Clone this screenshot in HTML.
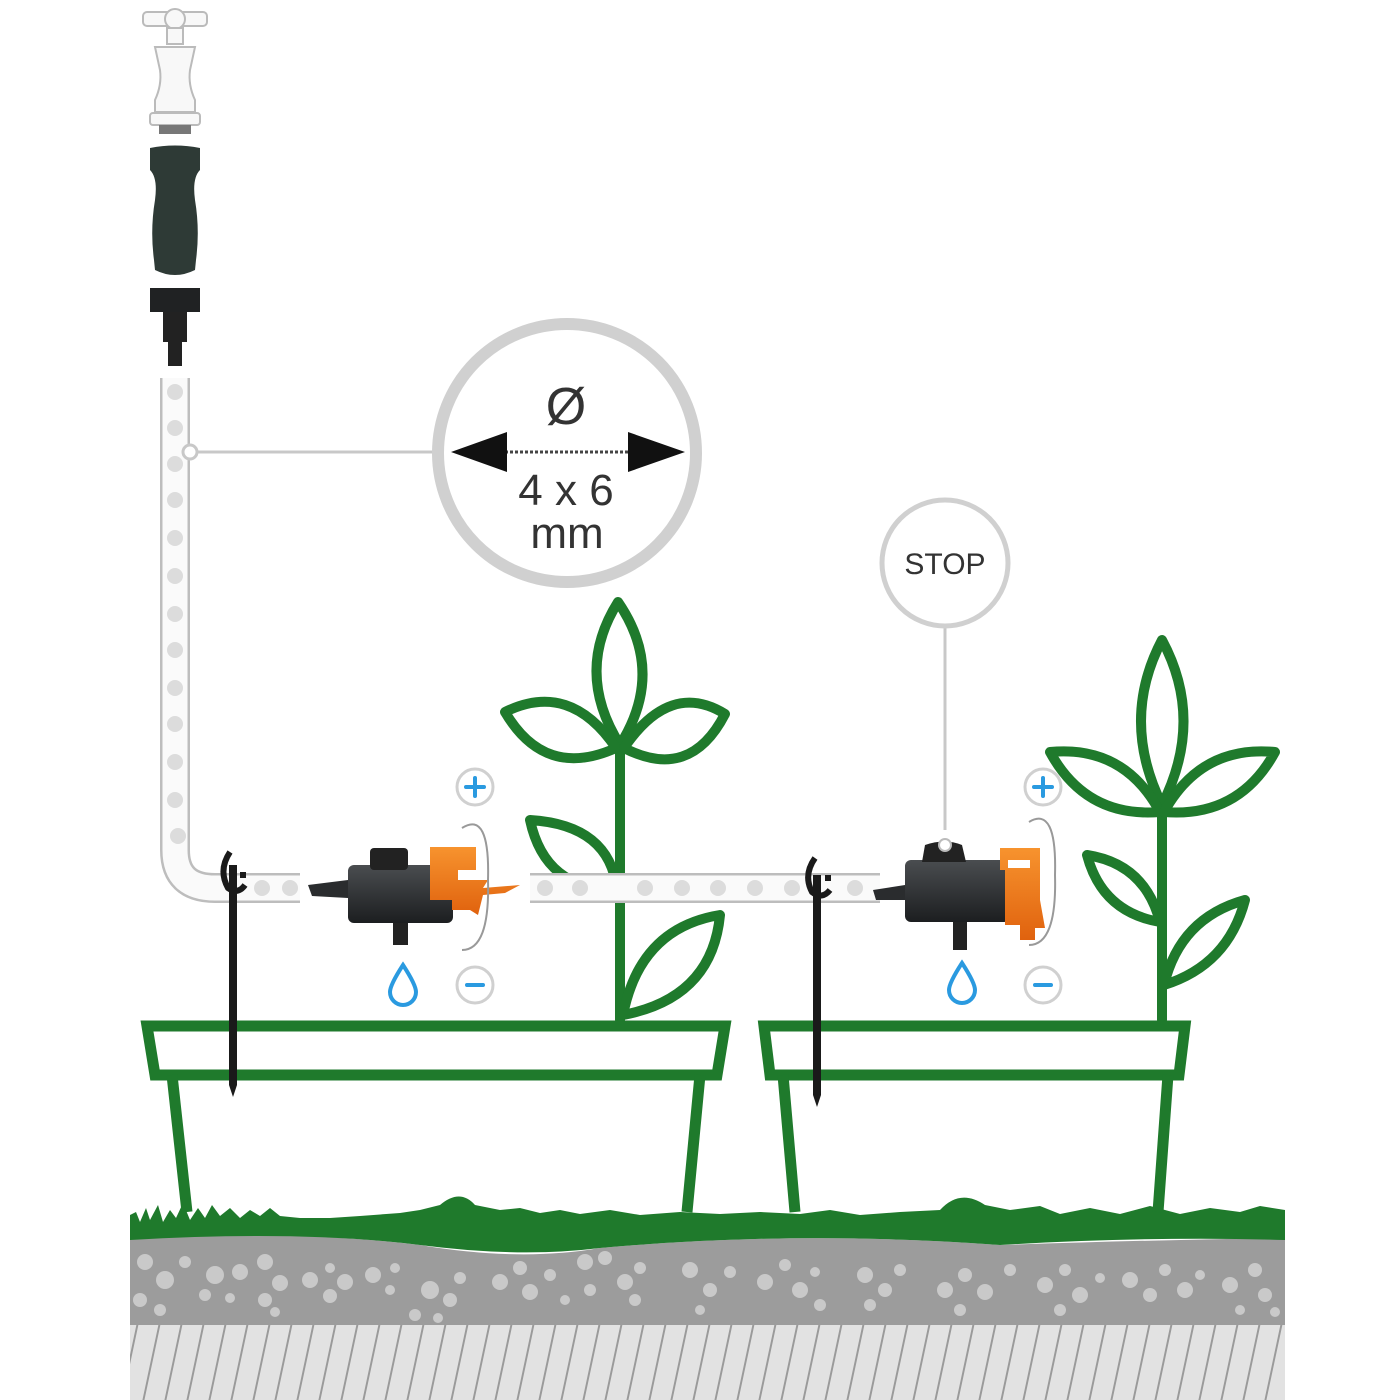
<!DOCTYPE html>
<html><head><meta charset="utf-8"><style>html,body{margin:0;padding:0;background:#fff}svg{display:block}</style></head>
<body>
<svg width="1400" height="1400" viewBox="0 0 1400 1400" xmlns="http://www.w3.org/2000/svg">
<defs>
<pattern id="hatch" patternUnits="userSpaceOnUse" width="22" height="80" patternTransform="skewX(-12)">
<rect width="22" height="80" fill="#e2e2e2"/><rect width="2" height="80" fill="#9a9a9a"/>
</pattern>
<linearGradient id="blk" x1="0" y1="0" x2="0" y2="1"><stop offset="0" stop-color="#4a4d50"/><stop offset="1" stop-color="#1c1e20"/></linearGradient>
<linearGradient id="org" x1="0" y1="0" x2="0" y2="1"><stop offset="0" stop-color="#f7932e"/><stop offset="1" stop-color="#e0620e"/></linearGradient>
</defs>

<!-- ground -->
<rect x="130" y="1325" width="1155" height="75" fill="url(#hatch)"/>
<path d="M130,1238 Q300,1230 420,1245 Q520,1262 600,1248 Q800,1230 1000,1245 Q1150,1240 1285,1238 V1325 H130 Z" fill="#9c9c9c"/>
<g fill="#c9c9c9">
<circle cx="145" cy="1262" r="8"/><circle cx="165" cy="1280" r="9"/><circle cx="185" cy="1262" r="6"/><circle cx="140" cy="1300" r="7"/><circle cx="160" cy="1310" r="6"/>
<circle cx="215" cy="1275" r="9"/><circle cx="240" cy="1272" r="8"/><circle cx="205" cy="1295" r="6"/><circle cx="230" cy="1298" r="5"/><circle cx="265" cy="1262" r="8"/><circle cx="280" cy="1283" r="8"/><circle cx="265" cy="1300" r="7"/><circle cx="275" cy="1312" r="5"/>
<circle cx="310" cy="1280" r="8"/><circle cx="330" cy="1268" r="5"/><circle cx="345" cy="1282" r="8"/><circle cx="330" cy="1296" r="7"/><circle cx="373" cy="1275" r="8"/><circle cx="390" cy="1290" r="5"/><circle cx="395" cy="1268" r="5"/>
<circle cx="430" cy="1290" r="9"/><circle cx="450" cy="1300" r="7"/><circle cx="460" cy="1278" r="6"/><circle cx="415" cy="1315" r="6"/><circle cx="438" cy="1318" r="5"/>
<circle cx="500" cy="1282" r="8"/><circle cx="520" cy="1268" r="7"/><circle cx="530" cy="1292" r="8"/><circle cx="550" cy="1275" r="6"/><circle cx="565" cy="1300" r="5"/>
<circle cx="585" cy="1262" r="8"/><circle cx="605" cy="1258" r="7"/><circle cx="590" cy="1290" r="6"/><circle cx="625" cy="1282" r="8"/><circle cx="640" cy="1268" r="6"/><circle cx="635" cy="1300" r="6"/>
<circle cx="690" cy="1270" r="8"/><circle cx="710" cy="1290" r="7"/><circle cx="730" cy="1272" r="6"/><circle cx="700" cy="1310" r="5"/>
<circle cx="765" cy="1282" r="8"/><circle cx="785" cy="1265" r="6"/><circle cx="800" cy="1290" r="8"/><circle cx="815" cy="1272" r="5"/><circle cx="820" cy="1305" r="6"/>
<circle cx="865" cy="1275" r="8"/><circle cx="885" cy="1290" r="7"/><circle cx="900" cy="1270" r="6"/><circle cx="870" cy="1305" r="6"/>
<circle cx="945" cy="1290" r="8"/><circle cx="965" cy="1275" r="7"/><circle cx="985" cy="1292" r="8"/><circle cx="960" cy="1310" r="6"/><circle cx="1010" cy="1270" r="6"/>
<circle cx="1045" cy="1285" r="8"/><circle cx="1065" cy="1270" r="6"/><circle cx="1080" cy="1295" r="8"/><circle cx="1100" cy="1278" r="5"/><circle cx="1060" cy="1310" r="6"/>
<circle cx="1130" cy="1280" r="8"/><circle cx="1150" cy="1295" r="7"/><circle cx="1165" cy="1270" r="6"/><circle cx="1185" cy="1290" r="8"/><circle cx="1200" cy="1275" r="5"/>
<circle cx="1230" cy="1285" r="8"/><circle cx="1255" cy="1270" r="7"/><circle cx="1265" cy="1295" r="7"/><circle cx="1240" cy="1310" r="5"/><circle cx="1275" cy="1312" r="5"/>
</g>
<!-- grass -->
<path d="M130,1240 V1215 L136,1212 L140,1222 L146,1208 L150,1220 L158,1205 L163,1222 L170,1210 L176,1218 L183,1203 L190,1220 L198,1208 L205,1218 L212,1205 L220,1216 L230,1208 L240,1218 L250,1210 L260,1216 L270,1208 L280,1216 L300,1218 L330,1218 L360,1216 L400,1213 L420,1210 L440,1205 Q460,1188 475,1205 L500,1210 L520,1208 L540,1213 L560,1210 L580,1214 L610,1210 L640,1215 L680,1212 L720,1214 L760,1212 L800,1214 L830,1210 L860,1215 L900,1212 L940,1210 Q960,1188 985,1205 L1010,1210 L1040,1206 L1060,1214 L1090,1208 L1120,1214 L1150,1206 L1180,1214 L1210,1208 L1240,1212 L1260,1206 L1285,1210 V1240 Q1150,1236 1000,1245 Q800,1230 600,1248 Q520,1258 420,1245 Q300,1230 130,1240 Z" fill="#1f7a2c"/>

<!-- pots -->
<g fill="none" stroke="#1f7a2c" stroke-width="11" stroke-linejoin="miter">
<path d="M147,1026 H725 L717,1075 H155 Z"/>
<path d="M172,1075 L187,1212 M700,1075 L687,1212"/>
<path d="M764,1026 H1185 L1179,1075 H770 Z"/>
<path d="M783,1075 L795,1212 M1168,1075 L1158,1212"/>
</g>

<!-- plants -->
<g fill="none" stroke="#1f7a2c" stroke-width="10" stroke-linejoin="round" stroke-linecap="round">
<path d="M620,1020 V745"/>
<path d="M620,745 Q574,672 618,602 Q666,672 620,745 Z"/>
<path d="M616,748 Q570,680 505,712 Q545,780 616,748 Z"/>
<path d="M624,748 Q670,680 725,714 Q690,782 624,748 Z"/>
<path d="M617,890 Q610,825 530,820 Q545,890 617,890 Z"/>
<path d="M623,1015 Q640,928 720,915 Q712,998 623,1015 Z"/>
<path d="M1162,1020 V805"/>
<path d="M1162,805 Q1120,720 1162,640 Q1205,720 1162,805 Z"/>
<path d="M1160,812 Q1124,745 1050,752 Q1086,818 1160,812 Z"/>
<path d="M1164,812 Q1201,745 1275,752 Q1239,818 1164,812 Z"/>
<path d="M1160,922 Q1145,864 1087,855 Q1102,912 1160,922 Z"/>
<path d="M1164,985 Q1180,918 1245,900 Q1228,965 1164,985 Z"/>
</g>

<!-- connector lines -->
<g stroke="#c8c8c8" stroke-width="3" fill="none">
<line x1="190" y1="452" x2="436" y2="452"/>
<line x1="945" y1="628" x2="945" y2="830"/>
</g>

<!-- tubes -->
<g fill="none" stroke-linecap="butt">
<path d="M175,378 V850 Q175,888 215,888 H300" stroke="#bdbdbd" stroke-width="30"/>
<path d="M175,378 V850 Q175,888 215,888 H300" stroke="#fafafa" stroke-width="25"/>
<path d="M530,888 H880" stroke="#bdbdbd" stroke-width="30"/>
<path d="M530,888 H880" stroke="#fafafa" stroke-width="25"/>
</g>
<g fill="#dcdcdc">
<circle cx="175" cy="392" r="8"/><circle cx="175" cy="428" r="8"/><circle cx="175" cy="464" r="8"/><circle cx="175" cy="500" r="8"/><circle cx="175" cy="538" r="8"/><circle cx="175" cy="576" r="8"/><circle cx="175" cy="614" r="8"/><circle cx="175" cy="650" r="8"/><circle cx="175" cy="688" r="8"/><circle cx="175" cy="724" r="8"/><circle cx="175" cy="762" r="8"/><circle cx="175" cy="800" r="8"/><circle cx="178" cy="836" r="8"/>
<circle cx="262" cy="888" r="8"/><circle cx="290" cy="888" r="8"/>
<circle cx="545" cy="888" r="8"/><circle cx="580" cy="888" r="8"/><circle cx="645" cy="888" r="8"/><circle cx="682" cy="888" r="8"/><circle cx="718" cy="888" r="8"/><circle cx="755" cy="888" r="8"/><circle cx="792" cy="888" r="8"/><circle cx="855" cy="888" r="8"/>
</g>
<circle cx="190" cy="452" r="7" fill="#fff" stroke="#c8c8c8" stroke-width="3"/>

<!-- faucet -->
<g fill="#f8f8f8" stroke="#bbb" stroke-width="2">
<rect x="143" y="12" width="64" height="14" rx="4"/>
<circle cx="175" cy="19" r="10"/>
<rect x="167" y="28" width="16" height="16"/>
<path d="M155,47 H195 L190,70 Q188,85 195,100 V112 H155 V100 Q162,85 160,70 Z"/>
<rect x="150" y="113" width="50" height="12" rx="3"/>
</g>
<rect x="159" y="125" width="32" height="9" fill="#777"/>
<path d="M150,148 Q175,143 200,148 L200,170 Q192,178 195,200 Q200,230 196,260 L195,270 Q175,280 155,270 L154,260 Q150,230 155,200 Q158,178 150,170 Z" fill="#2e3a36"/>
<path d="M150,288 H200 L200,312 H150 Z" fill="#202223"/>
<rect x="163" y="312" width="24" height="30" fill="#222"/>
<rect x="168" y="342" width="14" height="24" fill="#222"/>

<!-- big circle -->
<circle cx="567" cy="453" r="129" fill="#fff" stroke="#d0d0d0" stroke-width="12"/>
<text x="566" y="424" font-family="Liberation Sans, sans-serif" font-size="52" text-anchor="middle" fill="#333">Ø</text>
<line x1="505" y1="452" x2="630" y2="452" stroke="#444" stroke-width="3" stroke-dasharray="3,2"/>
<path d="M451,452 L507,432 V472 Z M685,452 L628,432 V472 Z" fill="#111"/>
<text x="566" y="505" font-family="Liberation Sans, sans-serif" font-size="44" text-anchor="middle" fill="#333">4 x 6</text>
<text x="567" y="548" font-family="Liberation Sans, sans-serif" font-size="44" text-anchor="middle" fill="#333">mm</text>

<!-- STOP circle -->
<circle cx="945" cy="563" r="63" fill="#fff" stroke="#d0d0d0" stroke-width="5"/>
<text x="945" y="574" font-family="Liberation Sans, sans-serif" font-size="30" text-anchor="middle" fill="#333">STOP</text>

<!-- stakes -->
<g fill="#1a1a1a">
<rect x="229" y="865" width="8" height="220"/>
<path d="M229,1085 h8 l-4,12 z"/>
<rect x="813" y="875" width="8" height="220"/>
<path d="M813,1095 h8 l-4,12 z"/>
</g>
<g fill="none" stroke="#1a1a1a" stroke-width="6">
<path d="M230,852 Q218,870 228,888 Q238,895 245,885 M240,875 l6,0"/>
<path d="M815,858 Q803,875 812,892 Q822,900 830,890 M825,878 l6,0"/>
</g>

<!-- left dripper -->
<path d="M308,885 L348,880 L348,898 L312,896 Z" fill="#2a2c2e"/>
<rect x="348" y="865" width="105" height="58" rx="6" fill="url(#blk)"/>
<rect x="370" y="848" width="38" height="22" rx="4" fill="#222"/>
<rect x="393" y="923" width="15" height="22" fill="#222"/>
<path d="M430,847 H476 V870 H458 L458,880 H488 L483,888 L520,885 L505,893 L483,895 L478,915 L470,910 H452 V900 H430 Z" fill="url(#org)"/>
<!-- right dripper -->
<path d="M873,890 L905,885 L905,900 L876,900 Z" fill="#2a2c2e"/>
<rect x="905" y="860" width="105" height="62" rx="6" fill="url(#blk)"/>
<path d="M925,845 Q945,838 962,845 L966,862 H922 Z" fill="#222"/>
<circle cx="945" cy="845" r="6" fill="#fff" stroke="#bbb" stroke-width="2"/>
<rect x="953" y="922" width="14" height="28" fill="#222"/>
<path d="M1000,848 H1040 V900 L1045,928 H1035 V940 H1020 V925 H1005 V870 H1000 Z" fill="url(#org)"/>
<rect x="1008" y="860" width="22" height="8" fill="#fff"/>

<!-- +/- and arrows, drops -->
<g fill="#fff" stroke="#d0d0d0" stroke-width="3">
<circle cx="475" cy="787" r="18"/><circle cx="475" cy="985" r="18"/>
<circle cx="1043" cy="787" r="18"/><circle cx="1043" cy="985" r="18"/>
</g>
<g stroke="#2a9ae0" stroke-width="4" stroke-linecap="round">
<path d="M466,787 h18 M475,778 v18 M1034,787 h18 M1043,778 v18 M467,985 h16 M1035,985 h16"/>
</g>
<g fill="none" stroke="#999" stroke-width="2">
<path d="M462,828 Q490,810 488,880 Q490,950 462,950"/>
<path d="M1029,822 Q1057,805 1055,875 Q1057,945 1029,945"/>
</g>
<g fill="none" stroke="#2a9ae0" stroke-width="4">
<path d="M403,965 Q390,985 390,992 A13,13 0 0 0 416,992 Q416,985 403,965 Z"/>
<path d="M962,963 Q949,983 949,990 A13,13 0 0 0 975,990 Q975,983 962,963 Z"/>
</g>
</svg>
</body></html>
